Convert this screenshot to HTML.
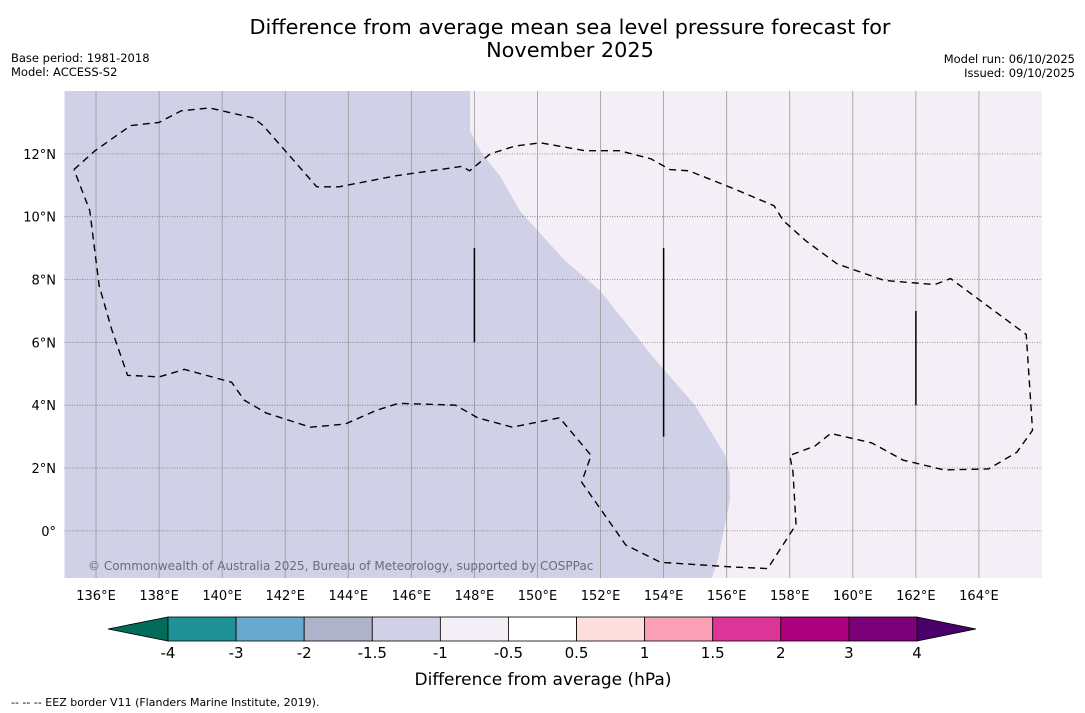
<!DOCTYPE html>
<html><head><meta charset="utf-8">
<style>
body{margin:0;background:#fff;font-family:"DejaVu Sans","Liberation Sans",sans-serif;}
svg{display:block}
</style></head>
<body>
<svg id="chart" width="1085" height="713" xmlns="http://www.w3.org/2000/svg">
<text x="570" y="34" font-size="20.8" text-anchor="middle">Difference from average mean sea level pressure forecast for</text>
<text x="570" y="57" font-size="20.8" text-anchor="middle">November 2025</text>
<text x="11" y="62" font-size="11.5">Base period: 1981-2018</text>
<text x="11" y="76" font-size="11.5">Model: ACCESS-S2</text>
<text x="1075" y="63" font-size="11.5" text-anchor="end">Model run: 06/10/2025</text>
<text x="1075" y="77" font-size="11.5" text-anchor="end">Issued: 09/10/2025</text>
<g id="map"></g>
<g id="cbar"></g>
<text x="543" y="685" font-size="17" text-anchor="middle">Difference from average (hPa)</text>
<text x="11" y="706" font-size="11">--  --  -- EEZ border V11 (Flanders Marine Institute, 2019).</text>
</svg>
<script>
const lonTicks=[136,138,140,142,144,146,148,150,152,154,156,158,160,162,164];
const latTicks=[0,2,4,6,8,10,12];
const eezLon=[135.3,135.97,137.1,138,138.7,139.6,141,141.3,143,143.7,145.5,147.6,147.85,148.5,149.3,150.1,151.5,152.6,153.6,154.2,154.8,156.2,157.5,157.8,158.5,159.5,161,162.6,163.1,165.5,165.7,165.2,164.3,162.9,161.6,160.6,159.3,158.8,158,158.1,158.2,157.3,156.2,153.9,152.8,151.4,151.7,150.7,149.2,148.1,147.4,145.6,144.9,143.9,142.8,141.4,140.7,140.3,138.8,138,137,136.5,136.1,135.8,135.3];
const eezLat=[11.5,12.1,12.9,13.0,13.37,13.46,13.14,12.9,10.95,10.95,11.3,11.6,11.46,12.0,12.25,12.35,12.1,12.1,11.84,11.5,11.46,10.9,10.35,9.87,9.24,8.5,7.97,7.84,8.03,6.25,3.2,2.5,1.97,1.94,2.25,2.8,3.1,2.7,2.4,1.9,0.2,-1.2,-1.15,-1.0,-0.45,1.55,2.4,3.6,3.3,3.6,4.0,4.06,3.84,3.4,3.3,3.75,4.16,4.73,5.14,4.9,4.95,6.4,7.8,10.2,11.5];
const shadeLon=[147.86,147.86,148.24,148.81,149.44,150.87,151.98,153.7,155.0,155.95,156.1,156.1,155.98,155.72,155.53];
const shadeLat=[14.0,12.73,12.0,11.3,10.19,8.6,7.65,5.49,3.99,2.41,1.78,0.98,0.35,-0.92,-1.5];
const barLon=[148,154,162];
const barLat0=[6,3,4];
const barLat1=[9,9,7];
const levels=[-4,-3,-2,-1.5,-1,-0.5,0.5,1,1.5,2,3,4];
const colors=["#1f9298","#67a9cf","#aeb3ca","#d0d1e6","#f4eef6","#ffffff","#fde0dd","#fa9fb5","#dd3497","#ae017e","#7a0177"];
const extColors=["#016c59","#49006a"];

const NS="http://www.w3.org/2000/svg";
const X0=64.5,X1=1042,Y0=91,Y1=578;
const lonMin=135,lonMax=166,latMin=-1.5,latMax=14;
function xs(l){return X0+(l-lonMin)/(lonMax-lonMin)*(X1-X0);}
function ys(l){return Y1-(l-latMin)/(latMax-latMin)*(Y1-Y0);}
function mk(t,a,p){const e=document.createElementNS(NS,t);for(const k in a)e.setAttribute(k,a[k]);p.appendChild(e);return e;}
const map=document.getElementById('map');
let r=mk('rect',{x:X0,y:Y0,width:X1-X0,height:Y1-Y0,fill:'#f4eef6'},map);


let pts=[[xs(lonMin),ys(latMax)]];
shadeLon.forEach((l,i)=>pts.push([xs(l),ys(shadeLat[i])]));
pts.push([xs(lonMin),ys(latMin)]);
let sh=mk('polygon',{points:pts.map(p=>p.join(',')).join(' '),fill:'#d0d1e6'},map);


lonTicks.forEach(l=>{
 let g=mk('line',{x1:xs(l),x2:xs(l),y1:Y0,y2:Y1,stroke:'#999',"stroke-width":0.8},map);
 
 
 let t=mk('text',{x:xs(l),y:600,"font-size":13,"text-anchor":'middle'},document.getElementById('chart'));
 t.textContent=l+'°E';
 
 
});
latTicks.forEach(l=>{
 let g=mk('line',{x1:X0,x2:X1,y1:ys(l),y2:ys(l),stroke:'#777',"stroke-width":0.8,"stroke-dasharray":'1 1.5'},map);
 
 
 let t=mk('text',{x:56,y:ys(l)+5,"font-size":13,"text-anchor":'end'},document.getElementById('chart'));
 t.textContent=l===0?'0°':l+'°N';
 
 
});
let ez=mk('polyline',{points:eezLon.map((l,i)=>xs(l)+','+ys(eezLat[i])).join(' '),fill:'none',stroke:'#000',"stroke-width":1.4,"stroke-dasharray":'7 5'},map);


barLon.forEach((l,i)=>{
 let b=mk('line',{x1:xs(l),x2:xs(l),y1:ys(barLat0[i]),y2:ys(barLat1[i]),stroke:'#000',"stroke-width":1.5},map);
 
 
});
let cp=mk('text',{x:88,y:570,"font-size":12,fill:'#6b6b7b'},map);
cp.textContent='© Commonwealth of Australia 2025, Bureau of Meteorology, supported by COSPPac';



const cb=document.getElementById('cbar');
const CX0=168,CX1=917,CY0=617,CY1=641,n=colors.length,bw=(CX1-CX0)/n;
let e1=mk('polygon',{points:`${CX0},${CY0} ${108},${(CY0+CY1)/2} ${CX0},${CY1}`,fill:extColors[0],stroke:'#000',"stroke-width":0.8},cb);


let e2=mk('polygon',{points:`${CX1},${CY0} ${976},${(CY0+CY1)/2} ${CX1},${CY1}`,fill:extColors[1],stroke:'#000',"stroke-width":0.8},cb);


colors.forEach((c,i)=>{
 let b=mk('rect',{x:CX0+i*bw,y:CY0,width:bw,height:CY1-CY0,fill:c,stroke:'#000',"stroke-width":0.8},cb);
 
 
});
levels.forEach((v,i)=>{
 let t=mk('text',{x:CX0+i*bw,y:658,"font-size":15,"text-anchor":'middle'},cb);
 t.textContent=String(v);
 
 
});
</script>
</body></html>
